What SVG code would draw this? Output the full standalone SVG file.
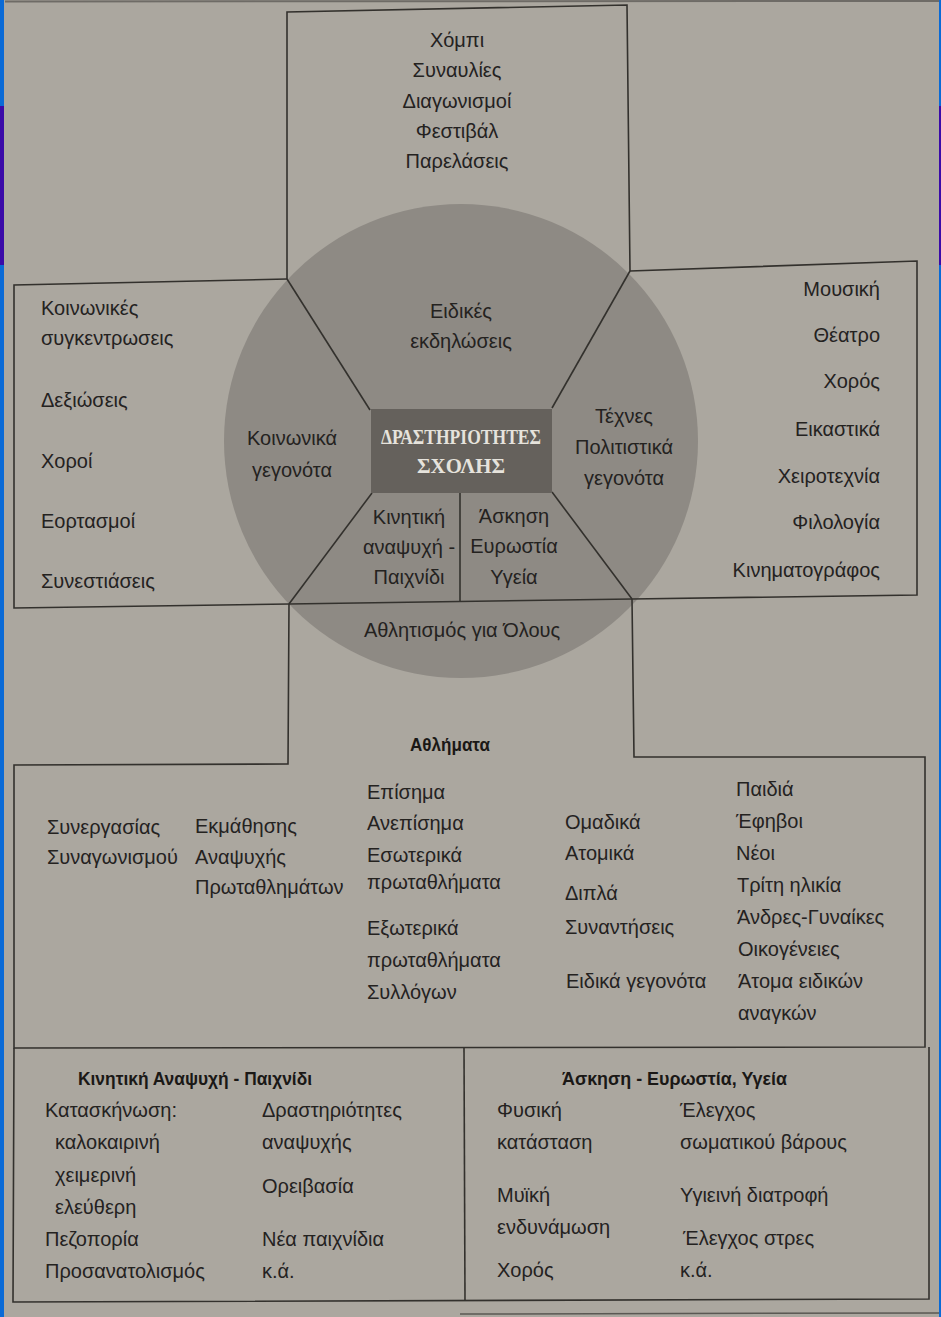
<svg xmlns="http://www.w3.org/2000/svg" width="941" height="1317" viewBox="0 0 941 1317">
<style>
text{font-family:"Liberation Sans","DejaVu Sans",sans-serif;font-size:20px;fill:#24221f}
.c{text-anchor:middle}
.r{text-anchor:end}
.b{font-weight:bold;font-size:18px;fill:#1a1816}
.ln{fill:none;stroke:#33312d;stroke-width:1.6}
.hd{font-family:"Liberation Serif","DejaVu Serif",serif;font-weight:bold;font-size:22px;fill:#e6e3dc;text-anchor:middle}
</style>
<rect x="0" y="0" width="941" height="1317" fill="#aba79f"/>
<line x1="5" y1="1.5" x2="941" y2="1" stroke="#6e6b66" stroke-width="2"/>
<line x1="460" y1="1314" x2="941" y2="1313" stroke="#5a5853" stroke-width="1.5"/>
<rect x="0" y="0" width="4" height="1317" fill="#0a6ad6"/>
<rect x="0" y="106" width="4" height="159" fill="#3a0aa8"/>
<rect x="939" y="0" width="2" height="1317" fill="#0a6ad6"/>
<rect x="939" y="106" width="2" height="159" fill="#3a0aa8"/>

<g id="circle">
<circle cx="461" cy="441" r="237" fill="#8e8a84"/>
</g>

<g id="connectors" class="ln">
<polyline points="287,279 287,12 627,5 630,271"/>
<polyline points="287,279 14,285 14,608 289,604"/>
<polyline points="630,271 917,261 917,595 632,599"/>
<line x1="287" y1="279" x2="370" y2="410"/>
<line x1="630" y1="271" x2="552" y2="408"/>
<line x1="372" y1="493" x2="289" y2="604"/>
<line x1="552" y1="492" x2="632" y2="599"/>
<line x1="289" y1="604" x2="632" y2="599"/>
<line x1="460" y1="492" x2="460" y2="601"/>
<polyline points="289,604 288,764 14,765 14,1048 925,1047 925,757 634,757 632,599"/>
<polyline points="14,1048 13,1302 929,1299 929,1047"/>
<line x1="464" y1="1048" x2="465" y2="1301"/>
</g>

<g id="center">
<rect x="371" y="409" width="181" height="84" fill="#65615c"/>
<text class="hd" x="461" y="444" textLength="160" lengthAdjust="spacingAndGlyphs">ΔΡΑΣΤΗΡΙΟΤΗΤΕΣ</text>
<text class="hd" x="461" y="473" textLength="88" lengthAdjust="spacingAndGlyphs">ΣΧΟΛΗΣ</text>
</g>

<g id="sector-special">
<text class="c" x="461" y="318">Ειδικές</text>
<text class="c" x="461" y="348">εκδηλώσεις</text>
</g>
<g id="sector-social">
<text class="c" x="292" y="445">Κοινωνικά</text>
<text class="c" x="292" y="477">γεγονότα</text>
</g>
<g id="sector-arts">
<text class="c" x="624" y="423">Τέχνες</text>
<text class="c" x="624" y="454">Πολιτιστικά</text>
<text class="c" x="624" y="485">γεγονότα</text>
</g>
<g id="sector-play">
<text class="c" x="409" y="524">Κινητική</text>
<text class="c" x="409" y="554">αναψυχή -</text>
<text class="c" x="409" y="584">Παιχνίδι</text>
</g>
<g id="sector-exercise">
<text class="c" x="514" y="523">Άσκηση</text>
<text class="c" x="514" y="553">Ευρωστία</text>
<text class="c" x="514" y="584">Υγεία</text>
</g>
<g id="sector-sport">
<text class="c" x="462" y="637">Αθλητισμός για Όλους</text>
</g>

<g id="box-top">
<text class="c" x="457" y="47">Χόμπι</text>
<text class="c" x="457" y="77">Συναυλίες</text>
<text class="c" x="457" y="108">Διαγωνισμοί</text>
<text class="c" x="457" y="138">Φεστιβάλ</text>
<text class="c" x="457" y="168">Παρελάσεις</text>
</g>

<g id="box-left">
<text x="41" y="315">Κοινωνικές</text>
<text x="41" y="345">συγκεντρωσεις</text>
<text x="41" y="407">Δεξιώσεις</text>
<text x="41" y="468">Χοροί</text>
<text x="41" y="528">Εορτασμοί</text>
<text x="41" y="588">Συνεστιάσεις</text>
</g>

<g id="box-right">
<text class="r" x="880" y="296">Μουσική</text>
<text class="r" x="880" y="342">Θέατρο</text>
<text class="r" x="880" y="388">Χορός</text>
<text class="r" x="880" y="436">Εικαστικά</text>
<text class="r" x="880" y="483">Χειροτεχνία</text>
<text class="r" x="880" y="529">Φιλολογία</text>
<text class="r" x="880" y="577">Κινηματογράφος</text>
</g>

<g id="box-athlimata">
<text class="b c" x="450" y="751" textLength="80" lengthAdjust="spacingAndGlyphs">Αθλήματα</text>
<text x="47" y="834">Συνεργασίας</text>
<text x="47" y="864">Συναγωνισμού</text>
<text x="195" y="833">Εκμάθησης</text>
<text x="195" y="864">Αναψυχής</text>
<text x="195" y="894">Πρωταθλημάτων</text>
<text x="367" y="799">Επίσημα</text>
<text x="367" y="830">Ανεπίσημα</text>
<text x="367" y="862">Εσωτερικά</text>
<text x="367" y="889">πρωταθλήματα</text>
<text x="367" y="935">Εξωτερικά</text>
<text x="367" y="967">πρωταθλήματα</text>
<text x="367" y="999">Συλλόγων</text>
<text x="565" y="829">Ομαδικά</text>
<text x="565" y="860">Ατομικά</text>
<text x="565" y="900">Διπλά</text>
<text x="565" y="934">Συναντήσεις</text>
<text x="566" y="988">Ειδικά γεγονότα</text>
<text x="736" y="796">Παιδιά</text>
<text x="736" y="828">Έφηβοι</text>
<text x="736" y="860">Νέοι</text>
<text x="737" y="892">Τρίτη ηλικία</text>
<text x="737" y="924">Άνδρες-Γυναίκες</text>
<text x="738" y="956">Οικογένειες</text>
<text x="738" y="988">Άτομα ειδικών</text>
<text x="738" y="1020">αναγκών</text>
</g>

<g id="box-play">
<text class="b" x="78" y="1085" textLength="234" lengthAdjust="spacingAndGlyphs">Κινητική Αναψυχή - Παιχνίδι</text>
<text x="45" y="1117">Κατασκήνωση:</text>
<text x="55" y="1149">καλοκαιρινή</text>
<text x="55" y="1182">χειμερινή</text>
<text x="55" y="1214">ελεύθερη</text>
<text x="45" y="1246">Πεζοπορία</text>
<text x="45" y="1278">Προσανατολισμός</text>
<text x="262" y="1117">Δραστηριότητες</text>
<text x="262" y="1149">αναψυχής</text>
<text x="262" y="1193">Ορειβασία</text>
<text x="262" y="1246">Νέα παιχνίδια</text>
<text x="262" y="1278">κ.ά.</text>
</g>

<g id="box-exercise">
<text class="b" x="562" y="1085" textLength="225" lengthAdjust="spacingAndGlyphs">Άσκηση - Ευρωστία, Υγεία</text>
<text x="497" y="1117">Φυσική</text>
<text x="497" y="1149">κατάσταση</text>
<text x="497" y="1202">Μυϊκή</text>
<text x="497" y="1234">ενδυνάμωση</text>
<text x="497" y="1277">Χορός</text>
<text x="680" y="1117">Έλεγχος</text>
<text x="680" y="1149">σωματικού βάρους</text>
<text x="680" y="1202">Υγιεινή διατροφή</text>
<text x="683" y="1245">Έλεγχος στρες</text>
<text x="680" y="1277">κ.ά.</text>
</g>
</svg>
